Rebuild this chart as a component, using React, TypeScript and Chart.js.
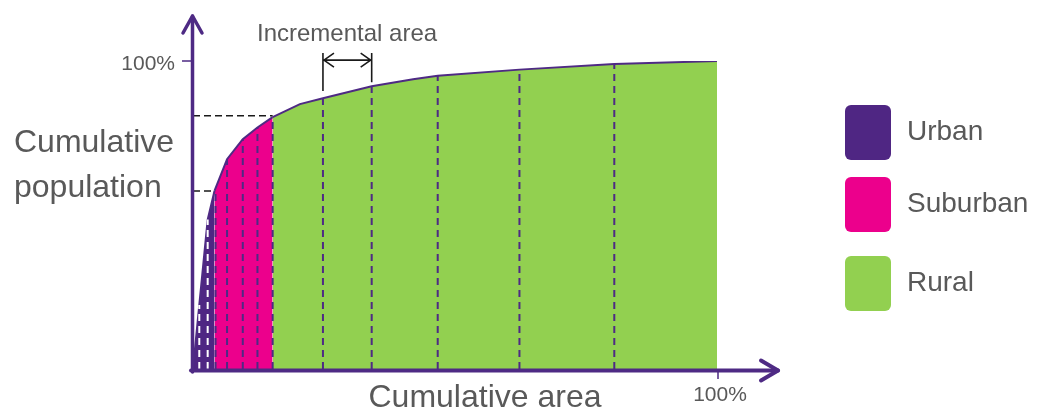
import { useEffect, useRef } from 'react';
import { Chart, registerables } from 'chart.js';

Chart.register(...registerables);

// ---- data ----
const regionNames = ['Urban', 'Suburban', 'Rural'];
const regionColors = ['#4F2683', '#EC008C', '#92D050'];
const regionEndX = [4.1, 15.2, 100];

const curveX = [0, 2.8, 4.1, 6.5, 9.5, 12.3, 15.2, 20.4, 24.8, 34.1, 42.0, 46.7, 62.3, 80.4, 100];
const curveY = [0, 48.5, 57.8, 68.1, 74.6, 78.4, 81.8, 86.0, 87.9, 91.8, 94.1, 95.2, 97.2, 99.0, 100];

const dashX = [1.2, 2.8, 4.3, 6.5, 9.5, 12.3, 15.2, 24.8, 34.1, 46.7, 62.3, 80.4];
const dashY = [20.8, 48.5, 58.3, 68.1, 74.6, 78.4, 81.8, 87.9, 91.8, 95.2, 97.2, 99.0];

const levelX = [4.1, 15.2];
const levelY = [57.8, 82.2];

const bracketX = [24.8, 34.1];
const bracketBottomY = [90.3, 93.1];
const bracketTopY = 102.6;
const bracketArrowY = 100.3;

const xTickLabels = ['100%'];
const yTickLabels = ['100%'];
const xTitle = 'Cumulative area';
const yTitle = ['Cumulative', 'population'];
const annotationText = 'Incremental area';

const AXIS = '#4E2A84';
const TEXT = '#595959';
const FONT = '"Liberation Sans", Arial, sans-serif';

const overlay = {
  id: 'overlay',
  afterDatasetsDraw(chart: any) {
    const { ctx } = chart;
    const xs = chart.scales.x;
    const ys = chart.scales.y;
    const x0 = xs.getPixelForValue(0);
    const y0 = ys.getPixelForValue(0);
    const x100 = xs.getPixelForValue(100);
    const y100 = ys.getPixelForValue(100);
    ctx.save();

    // axes
    ctx.strokeStyle = AXIS;
    ctx.lineCap = 'round';
    ctx.lineJoin = 'round';
    ctx.lineWidth = 3.5;
    ctx.beginPath();
    ctx.moveTo(x0 - 0.5, y0 + 3);
    ctx.lineTo(x0 - 0.5, 16);
    ctx.stroke();
    ctx.beginPath();
    ctx.moveTo(x0 - 10, 33);
    ctx.lineTo(x0 - 0.5, 16);
    ctx.lineTo(x0 + 9, 33);
    ctx.stroke();

    ctx.lineWidth = 4;
    const ax = y0 + 1.5;
    ctx.beginPath();
    ctx.moveTo(x0 - 2, ax);
    ctx.lineTo(778, ax);
    ctx.stroke();
    ctx.beginPath();
    ctx.moveTo(761, ax - 10);
    ctx.lineTo(778, ax);
    ctx.lineTo(761, ax + 10);
    ctx.stroke();

    // ticks
    ctx.lineCap = 'butt';
    ctx.lineWidth = 1.5;
    ctx.beginPath();
    ctx.moveTo(x0 - 11, y100);
    ctx.lineTo(x0 - 2, y100);
    ctx.moveTo(x100 + 1, y0 + 3);
    ctx.lineTo(x100 + 1, y0 + 10);
    ctx.stroke();

    // tick labels
    ctx.fillStyle = TEXT;
    ctx.font = `21px ${FONT}`;
    ctx.textAlign = 'right';
    ctx.textBaseline = 'alphabetic';
    ctx.fillText(yTickLabels[0], x0 - 18, y100 + 9);
    ctx.textAlign = 'center';
    ctx.fillText(xTickLabels[0], x100 + 3, y0 + 32);

    // titles
    ctx.font = `32px ${FONT}`;
    ctx.textAlign = 'center';
    ctx.fillText(xTitle, 485, 407);
    ctx.textAlign = 'left';
    ctx.fillText(yTitle[0], 14, 152);
    ctx.fillText(yTitle[1], 14, 197);

    // annotation
    ctx.font = `24px ${FONT}`;
    ctx.textAlign = 'left';
    ctx.fillText(annotationText, 257, 41);

    ctx.strokeStyle = '#1a1a1a';
    ctx.lineWidth = 1.6;
    const bx = bracketX.map((v) => xs.getPixelForValue(v));
    const bt = ys.getPixelForValue(bracketTopY);
    ctx.beginPath();
    bx.forEach((px, i) => {
      ctx.moveTo(px, bt);
      ctx.lineTo(px, ys.getPixelForValue(bracketBottomY[i]));
    });
    const ay = ys.getPixelForValue(bracketArrowY);
    ctx.moveTo(bx[0] + 1, ay);
    ctx.lineTo(bx[1] - 1, ay);
    ctx.moveTo(bx[0] + 11, ay - 7);
    ctx.lineTo(bx[0] + 1, ay);
    ctx.lineTo(bx[0] + 11, ay + 7);
    ctx.moveTo(bx[1] - 11, ay - 7);
    ctx.lineTo(bx[1] - 1, ay);
    ctx.lineTo(bx[1] - 11, ay + 7);
    ctx.stroke();

    // legend
    const legTop = [105, 177, 256];
    regionNames.forEach((name, i) => {
      ctx.fillStyle = regionColors[i];
      ctx.beginPath();
      ctx.roundRect(845, legTop[i], 46, 55, 6);
      ctx.fill();
      ctx.fillStyle = TEXT;
      ctx.font = `28px ${FONT}`;
      ctx.textAlign = 'left';
      ctx.fillText(name, 907, legTop[i] + 35);
    });

    ctx.restore();
  },
};

export default function App() {
  const ref = useRef<HTMLCanvasElement>(null);
  useEffect(() => {
    const canvas = ref.current;
    if (!canvas) return;
    const points = curveX.map((x, j) => ({ x, y: curveY[j] }));
    const areaSets = regionNames.map((name, i) => {
      const start = i === 0 ? 0 : regionEndX[i - 1];
      const end = regionEndX[i];
      return {
        label: name,
        data: points.filter((p) => p.x >= start && p.x <= end),
        fill: 'origin',
        backgroundColor: regionColors[i],
        borderColor: AXIS,
        borderWidth: 2,
        pointRadius: 0,
        tension: 0,
        order: 3,
      };
    });
    const dashSets = dashX.map((x, i) => ({
      label: 'd' + i,
      data: [
        { x, y: 0 },
        { x, y: dashY[i] },
      ],
      fill: false,
      borderColor: x < regionEndX[0] ? '#ffffff' : AXIS,
      borderWidth: 2,
      borderDash: [7, 5],
      pointRadius: 0,
      order: 1,
    }));
    const levelSets = levelY.map((y, i) => ({
      label: 'l' + i,
      data: [
        { x: 0, y },
        { x: levelX[i], y },
      ],
      fill: false,
      borderColor: '#1a1a1a',
      borderWidth: 1.5,
      borderDash: [7, 4],
      pointRadius: 0,
      order: 0,
    }));
    const chart = new Chart(canvas, {
      type: 'line',
      data: { datasets: [...areaSets, ...dashSets, ...levelSets] as any },
      options: {
        animation: false,
        responsive: false,
        devicePixelRatio: 1,
        parsing: true as any,
        layout: { padding: { left: 193, right: 320, top: 61, bottom: 41 } },
        scales: {
          x: { type: 'linear', min: 0, max: 100, display: false },
          y: { type: 'linear', min: 0, max: 100, display: false },
        },
        plugins: { legend: { display: false }, tooltip: { enabled: false } },
      },
      plugins: [overlay],
    });
    return () => chart.destroy();
  }, []);
  return (
    <div style={{ position: 'fixed', left: 0, top: 0, width: 1037, height: 410, background: '#fff' }}>
      <canvas ref={ref} width={1037} height={410} />
    </div>
  );
}
